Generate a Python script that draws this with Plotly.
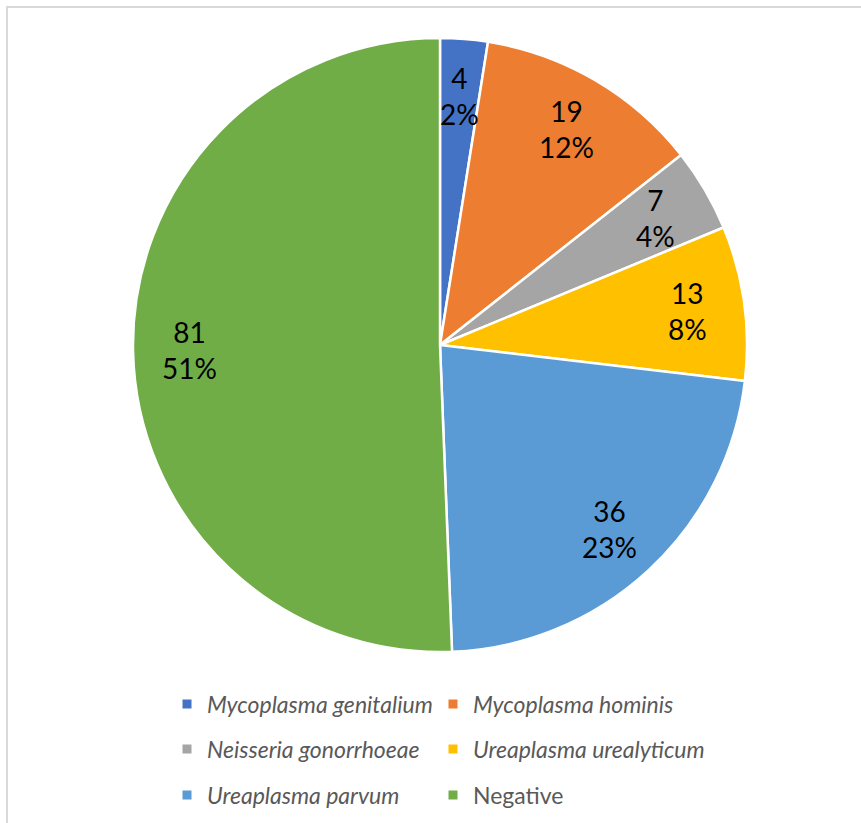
import math
import plotly.graph_objects as go

# ---- data ----
categories = ["Mycoplasma genitalium", "Mycoplasma hominis", "Neisseria gonorrhoeae",
              "Ureaplasma urealyticum", "Ureaplasma parvum", "Negative"]
italic_name = [True, True, True, True, True, False]
values = [4, 19, 7, 13, 36, 81]
percent_labels = ["2%", "12%", "4%", "8%", "23%", "51%"]
colors = ["#4472C4", "#ED7D31", "#A5A5A5", "#FFC000", "#5B9BD5", "#70AD47"]
legend_rows = ["legend", "legend", "legend2", "legend2", "legend3", "legend3"]

W, H = 861, 823
ML, MR = 50, 31
PW = W - ML - MR
CX_PX, CY_PX, R_PX = 440, 345, 307

dom_y0 = (H - CY_PX - R_PX) / H
dom_y1 = (H - CY_PX + R_PX) / H

fig = go.Figure()
fig.add_trace(go.Pie(
    labels=categories, values=values, sort=False, direction="clockwise", rotation=0,
    marker=dict(colors=colors, line=dict(color="white", width=2.5)),
    textinfo="none", showlegend=False, hoverinfo="label+value+percent",
    domain=dict(x=[0, 1], y=[dom_y0, dom_y1]),
))

# data labels computed from the values
total = sum(values)
cum = 0
cx_p = (CX_PX - ML) / PW
cy_p = (H - CY_PX) / H
rfrac = 0.815
for v, p in zip(values, percent_labels):
    mid = (cum + v / 2) / total * 2 * math.pi
    cum += v
    x = cx_p + rfrac * R_PX * math.sin(mid) / PW
    y = cy_p + rfrac * R_PX * math.cos(mid) / H
    fig.add_annotation(x=x, y=y, xref="paper", yref="paper", text=f"{v}<br>{p}",
                       showarrow=False, font=dict(family="Lato", size=28, color="#000000"),
                       xanchor="center", yanchor="middle")

# legend entries (two per row)
for i, (name, it, c, lg) in enumerate(zip(categories, italic_name, colors, legend_rows)):
    fig.add_trace(go.Scatter(x=[None], y=[None], mode="markers",
                             name=f"<i>{name}</i>" if it else name,
                             marker=dict(symbol="square", size=9, color=c),
                             legend=lg, hoverinfo="skip",
                             legendwidth=221 if i % 2 == 0 else 300))

leg_common = dict(orientation="h", xanchor="left", yanchor="middle",
                  entrywidthmode="pixels",
                  font=dict(family="Lato", size=23, color="#595959"),
                  bgcolor="rgba(0,0,0,0)", itemclick=False, itemdoubleclick=False,
                  itemwidth=30)
leg_x = (167 - ML) / PW
row_y = [704, 749, 795]

fig.update_layout(
    width=W, height=H,
    margin=dict(l=ML, r=MR, t=0, b=0),
    paper_bgcolor="white", plot_bgcolor="white",
    xaxis=dict(visible=False), yaxis=dict(visible=False),
    legend=dict(x=leg_x, y=(H - row_y[0]) / H, **leg_common),
    legend2=dict(x=leg_x, y=(H - row_y[1]) / H, **leg_common),
    legend3=dict(x=leg_x, y=(H - row_y[2]) / H, **leg_common),
    shapes=[dict(type="rect", xref="paper", yref="paper",
                 x0=(7 - ML) / PW, x1=1.2, y0=-0.2, y1=(H - 7) / H,
                 line=dict(color="#D9D9D9", width=2), fillcolor="rgba(0,0,0,0)", layer="below")],
)

fig.write_html("out.html", post_script="document.body.style.margin='0';",
               config={"displayModeBar": False})
